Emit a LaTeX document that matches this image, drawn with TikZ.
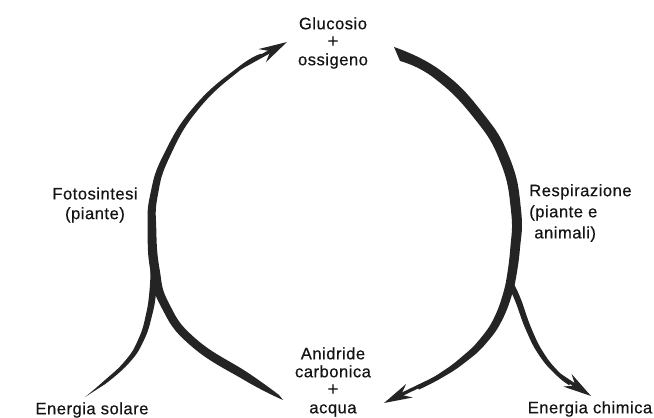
\documentclass[tikz,border=0pt]{standalone}
\usepackage{fontspec}
\setmainfont{Liberation Sans}[LetterSpace=3,FakeBold=0.4]
\usetikzlibrary{arrows.meta}
\definecolor{ink}{gray}{0.14}
\newcommand{\bigplus}{{\fontsize{13.5}{12}\selectfont +}}
\begin{document}
\begin{tikzpicture}[x=0.025cm,y=-0.025cm,
  lbl/.style={text=black!92,align=center,inner sep=0pt,font=\fontsize{11.8}{13.2}\selectfont},
  band/.style={fill=ink},
  head/.style={draw=ink,line width=2.4pt,-{Stealth[length=0.7cm,width=0.37cm]}}]
  \useasboundingbox[fill=white] (0,0) rectangle (654,418);
  \node[lbl,font=\fontsize{11.8}{12.8}\selectfont] (gluc) at (333,43){Glucosio\\\bigplus\\ossigeno};
  \node[lbl,font=\fontsize{11.8}{12.8}\selectfont] (anid) at (333,382){Anidride\\carbonica\\\bigplus\\acqua};
  \node[lbl,font=\fontsize{11.8}{14}\selectfont] (foto) at (95,205){Fotosintesi\\(piante)};
  \node[lbl,align=left,anchor=west,font=\fontsize{11.8}{15}\selectfont] (resp) at (529,213){Respirazione\\(piante e\\\ animali)};
  \node[lbl] (sol) at (92,410){Energia solare};
  \node[lbl] (chim) at (590,409){Energia chimica};
  \coordinate (fotoA) at (240,68);
  \coordinate (fotoTip) at (287,42);
  \coordinate (anidA) at (440,376);
  \coordinate (anidTip) at (384,403);
  \coordinate (chimA) at (558,374);
  \coordinate (chimTip) at (591,396);
  % fotosintesi
  \fill[band] plot[smooth,tension=0.8] coordinates{(283,400) (244.8,380.4) (190.2,345.2) (161.2,307.0) (150.4,270.8) (147.7,230) (150.3,194.2) (164.1,153.6) (195.1,105.4) (238.9,66.6) (261.3,53.7)}
    -- plot[smooth,tension=0.8] coordinates{(262.7,56.3) (241.1,69.4) (198.9,108.6) (169.9,156.4) (157.7,195.8) (156.3,230) (159.6,269.2) (168.8,303.0) (195.8,338.8) (249.2,373.6) (279,395)} -- cycle;
  \fill[band] plot[smooth,tension=0.8] coordinates{(85,397) (103.0,381.8) (125.3,360.6) (138.5,338.9) (146.0,314.3) (149.6,289.6) (150.5,267.8)}
    -- plot[smooth,tension=0.8] coordinates{(157.5,268.2) (156.4,290.4) (152.0,315.7) (143.5,341.1) (128.7,363.4) (105.0,384.2)} -- cycle;
  \draw[head] (fotoA) -- (fotoTip);
  % respirazione
  \fill[band] plot[smooth,tension=0.8] coordinates{(394,47) (440.1,70.1) (481.9,111.9) (509.7,158.1) (521,209.5) (519.8,250.4) (514.5,285.6)}
    -- plot[smooth,tension=0.8] coordinates{(505.5,284.4) (510.2,249.6) (511,210.5) (500.3,161.9) (474.1,118.1) (433.9,77.9) (400,61)} -- cycle;
  \fill[band] plot[smooth,tension=0.8] coordinates{(514.3,286.4) (503.8,316.7) (486.9,342.4) (465.0,362.5) (441.3,378.1) (418.8,389.6)}
    -- plot[smooth,tension=0.8] coordinates{(417.2,386.4) (438.7,373.9) (461.0,357.5) (481.1,337.6) (496.2,313.3) (505.7,283.6)} -- cycle;
  \fill[band] plot[smooth,tension=0.8] coordinates{(513.7,283.7) (520.8,298.9) (531.6,328.9) (544.1,353.6) (559.4,372.6) (570.8,382.8)}
    -- plot[smooth,tension=0.8] coordinates{(569.2,385.2) (556.6,375.4) (539.9,356.4) (526.4,331.1) (515.2,301.1) (508.3,286.3)} -- cycle;
  \draw[head] (anidA) -- (anidTip);
  \draw[head] (chimA) -- (chimTip);
\end{tikzpicture}
\end{document}
